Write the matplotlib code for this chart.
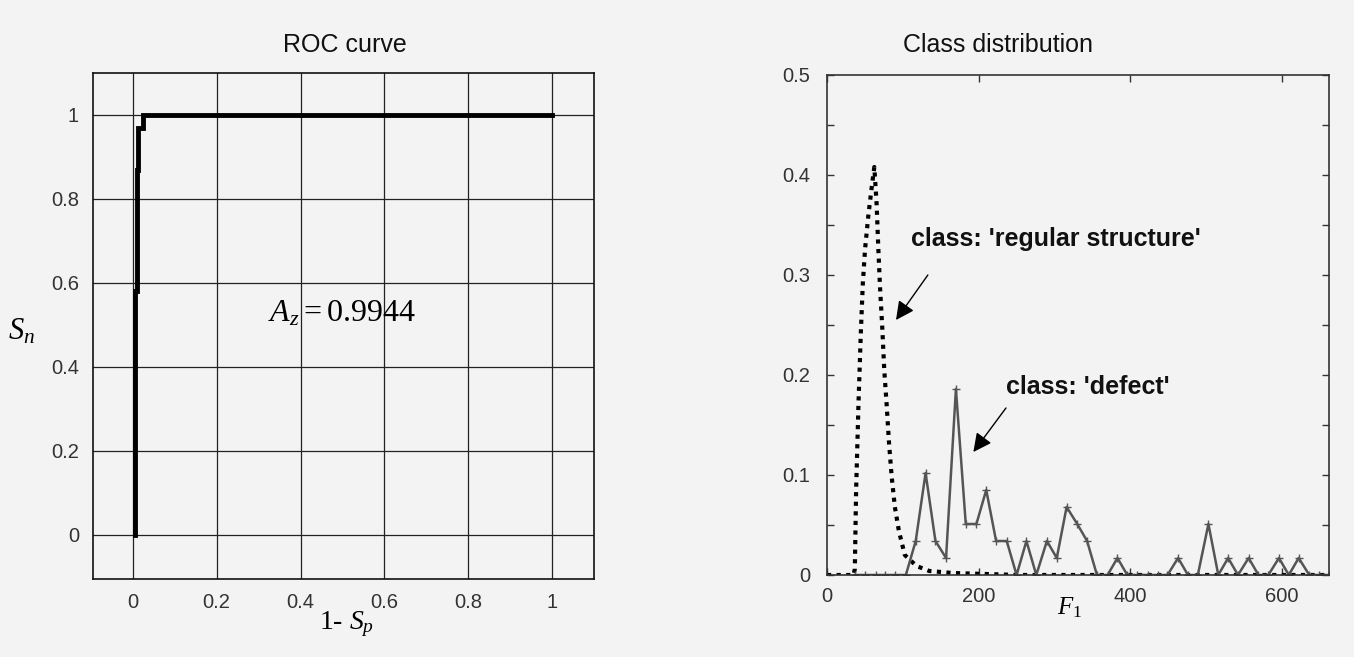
import numpy as np
import matplotlib
matplotlib.use("Agg")
import matplotlib.pyplot as plt

# ROC curve (1 - Sp, Sn)
roc_fpr = [0.006, 0.006, 0.009, 0.009, 0.013, 0.013, 0.025, 0.025, 1.0]
roc_tpr = [0.0, 0.58, 0.58, 0.87, 0.87, 0.97, 0.97, 1.0, 1.0]
roc_ticks = [0, 0.2, 0.4, 0.6, 0.8, 1]
roc_ticklabels = ["0", "0.2", "0.4", "0.6", "0.8", "1"]

# class distribution, 'regular structure' (dotted)
reg_x = [0, 35, 36.7, 38.4, 41.5, 44.5, 47.2, 50.2, 54.6, 59, 62.4, 65.5, 67.7,
         69.9, 72.9, 75.5, 78.6, 81.7, 85.2, 89.5, 94.8, 102.6, 118, 135, 166,
         253, 662]
reg_y = [0, 0, 0.006, 0.085, 0.171, 0.240, 0.291, 0.326, 0.360, 0.388, 0.408,
         0.370, 0.326, 0.288, 0.247, 0.205, 0.171, 0.133, 0.099, 0.068, 0.044,
         0.020, 0.009, 0.004, 0.002, 0, 0]

# class distribution, 'defect' (solid grey with +)
def_x = [37, 50, 64, 77, 90, 104, 117, 130, 143, 157, 170, 183, 197, 210, 223,
         237, 250, 263, 276, 290, 303, 316, 330, 343, 356, 370, 383, 396, 409,
         423, 436, 449, 463, 476, 489, 503, 516, 529, 542, 556, 569, 582, 596,
         609, 622, 636, 649, 662]
def_y = [0, 0, 0, 0, 0, 0, 0.034, 0.102, 0.034, 0.017, 0.186, 0.051, 0.051,
         0.085, 0.034, 0.034, 0, 0.034, 0, 0.034, 0.017, 0.068, 0.051, 0.034,
         0, 0, 0.017, 0, 0, 0, 0, 0, 0.017, 0, 0, 0.051, 0, 0.017, 0, 0.017,
         0, 0, 0.017, 0, 0.017, 0, 0, 0]

dist_xticks = [0, 200, 400, 600]
dist_yticks = [0, 0.1, 0.2, 0.3, 0.4, 0.5]
dist_yticklabels = ["0", "0.1", "0.2", "0.3", "0.4", "0.5"]

bg = "#f3f3f3"
plt.rcParams["font.family"] = ["Liberation Sans", "DejaVu Sans"]
plt.rcParams["mathtext.fontset"] = "custom"
plt.rcParams["mathtext.rm"] = "Liberation Serif"
plt.rcParams["mathtext.it"] = "Liberation Serif:italic"

W, H = 1354, 657
fig = plt.figure(figsize=(W / 100, H / 100), dpi=100, facecolor=bg)


def px_axes(l, t, r, b):
    return fig.add_axes([l / W, 1 - b / H, (r - l) / W, (b - t) / H])


# ---- left: ROC curve
ax1 = px_axes(93, 73, 594, 579)
ax1.set_facecolor(bg)
ax1.plot(roc_fpr, roc_tpr, color="black", lw=3.5, solid_joinstyle="miter")
ax1.set_xlim(-0.095, 1.1)
ax1.set_ylim(-0.105, 1.1)
ax1.set_xticks(roc_ticks)
ax1.set_xticklabels(roc_ticklabels)
ax1.set_yticks(roc_ticks)
ax1.set_yticklabels(roc_ticklabels)
ax1.grid(True, color="#222222", lw=0.9)
ax1.set_axisbelow(True)
ax1.tick_params(length=0, labelsize=14.5, colors="#333333", pad=10)
for s in ax1.spines.values():
    s.set_color("#111111")
    s.set_linewidth(1.2)
ax1.text(0.322, 0.528, r"$A_z = 0.9944$", fontsize=23, va="center", ha="left")

fig.text(345 / W, 1 - 45 / H, "ROC curve", fontsize=18, ha="center", va="center",
         color="#111111")
fig.text(22 / W, 1 - 332 / H, r"$S_n$", fontsize=22, ha="center", va="center")
fig.text(347 / W, 1 - 624 / H, r"1- $S_p$", fontsize=20, ha="center", va="center",
         family="Liberation Serif")

# ---- right: class distribution
ax2 = px_axes(827, 75, 1329, 575)
ax2.set_facecolor(bg)
ax2.plot(reg_x, reg_y, color="black", lw=3, linestyle=(0, (1, 1.3)))
ax2.plot(def_x, def_y, color="#555555", lw=1.8, marker="+", ms=6, mew=1)
ax2.set_xlim(0, 662)
ax2.set_ylim(0, 0.5)
ax2.set_xticks(dist_xticks)
ax2.set_yticks(dist_yticks)
ax2.set_yticklabels(dist_yticklabels)
ax2.set_yticks(np.array(dist_yticks[:-1]) + 0.05, minor=True)
ax2.tick_params(which="both", direction="in", top=True, right=True, length=5,
                width=1, labelsize=14.5, labelcolor="#333333", color="#333333")
ax2.tick_params(axis="y", pad=12)
ax2.tick_params(axis="x", pad=9)
for s in ax2.spines.values():
    s.set_color("#333333")
    s.set_linewidth(1.2)

arrow = dict(arrowstyle="-|>", color="black", lw=1, mutation_scale=28,
             shrinkA=0, shrinkB=0)
ax2.annotate("", xy=(91, 0.255), xytext=(133, 0.300), arrowprops=arrow)
ax2.annotate("", xy=(193, 0.123), xytext=(236, 0.167), arrowprops=arrow)
ax2.text(111, 0.336, "class: 'regular structure'", fontsize=18, weight="bold",
         color="#111111", va="center", ha="left")
ax2.text(236, 0.188, "class: 'defect'", fontsize=18, weight="bold",
         color="#111111", va="center", ha="left")

fig.text(998 / W, 1 - 45 / H, "Class distribution", fontsize=18, ha="center",
         va="center", color="#111111")
fig.text(1070 / W, 1 - 608 / H, r"$F_1$", fontsize=18, ha="center", va="center")

fig.savefig("out.png", dpi=100, facecolor=bg)
